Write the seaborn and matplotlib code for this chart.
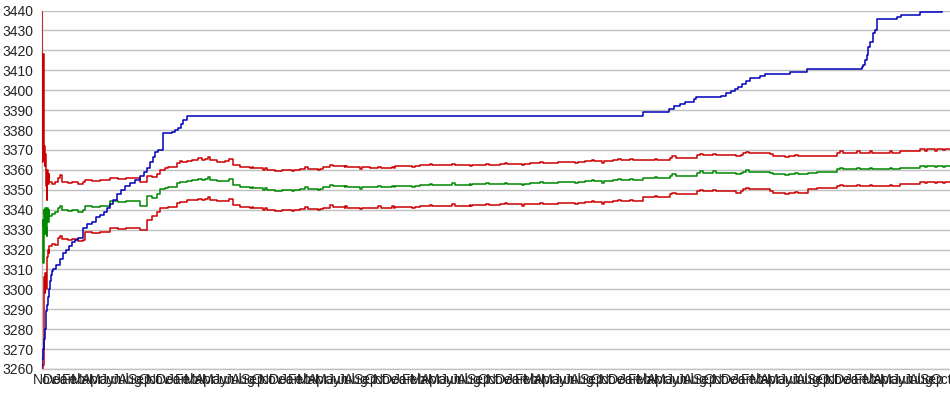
import pandas as pd
import matplotlib
matplotlib.use("Agg")
import matplotlib.pyplot as plt
import matplotlib.dates as mdates
import seaborn as sns

# Time axis: days counted from the first sample
start_date = "2005-10-20"
end_day = 2933

# Blue cumulative series (step line)
blue_days = [0, 1.6, 3.2, 7.4, 9.7, 12, 14.5, 17, 19.4, 22.6, 25.8, 28, 32, 36.5, 45, 58, 68,
             77.5, 87, 97, 106.6, 116, 132, 145, 161.5, 174, 187, 200, 210, 220, 229, 242, 255,
             268, 284, 300, 316.5, 329, 339, 349, 358.5, 365, 375, 390, 419, 430, 439, 449, 455,
             467, 1940, 2025, 2041, 2061, 2077, 2106, 2112, 2193, 2209, 2225, 2238, 2248, 2261,
             2274, 2287, 2319, 2335, 2416, 2471, 2649, 2653, 2658, 2664, 2668, 2674, 2683, 2690,
             2698, 2761, 2775, 2836, 2906, 2933]
blue_vals = [3261, 3265, 3270, 3275, 3280, 3285, 3289, 3292, 3296, 3300, 3304, 3307, 3309, 3310,
             3312, 3315, 3318, 3320, 3322, 3324, 3325, 3326, 3331, 3333, 3334, 3336.5, 3337.5,
             3339, 3341, 3343, 3345, 3348, 3350, 3352, 3353.5, 3355, 3357, 3359, 3361, 3364,
             3366.5, 3369, 3370, 3378.4, 3379, 3380, 3381, 3383, 3385, 3387.2, 3389.2, 3390.5,
             3392, 3393, 3394.2, 3395.6, 3396.4, 3397.2, 3398.4, 3399.7, 3400.5, 3401.5, 3403,
             3404.5, 3406, 3407, 3408, 3409, 3410.5, 3411.5, 3412.6, 3415, 3417.6, 3421.8, 3424.3,
             3428.5, 3430.2, 3435.6, 3436.6, 3437.7, 3439.4, 3440.3, 3440.3]

# Band series: upper (red), middle (green), lower (red)
band_days = [0, 1, 3, 5, 6.5, 8, 10, 11, 13, 15, 17, 19, 21.6, 24, 32, 42, 52, 58, 65, 84, 97,
             116, 132, 139, 161, 187, 220, 245, 271, 316, 339, 355, 371, 381, 397, 413, 436, 452,
             468, 484, 500, 526, 543, 565, 591, 617, 640, 681, 727, 752, 785, 833, 908, 930, 979,
             1060, 1140, 1221, 1302, 1382, 1479, 1576, 1673, 1754, 1802, 1844, 1941, 2028, 2116,
             2264, 2361, 2474, 2503, 2568, 2772, 2836, 2933]
upper_vals = [3445, 3364, 3418, 3370, 3365, 3372, 3362, 3368, 3352, 3345, 3360, 3353, 3358, 3354,
              3353, 3354, 3356, 3357.5, 3354, 3353.5, 3354, 3353, 3354, 3355, 3354.5, 3355, 3356,
              3355.5, 3356, 3354, 3357, 3356.6, 3358, 3360, 3360.8, 3361.5, 3363.4, 3364, 3364.3,
              3365, 3365, 3365.5, 3365, 3364, 3364.5, 3362.4, 3361.6, 3360.8, 3360, 3359.5, 3360,
              3360.5, 3361.3, 3361.8, 3361.3, 3360.8, 3361.9, 3362.2, 3362.5, 3362.5, 3363,
              3363.3, 3363.8, 3364.2, 3364.4, 3364.9, 3364.9, 3366.1, 3367.5, 3368.3, 3366.9,
              3366.9, 3367, 3368.7, 3369.5, 3370.3, 3370.3]
mid_vals = [3332, 3335, 3313, 3340, 3324, 3338, 3328, 3341, 3331, 3327, 3341, 3334, 3340, 3337,
            3338, 3339, 3341, 3342, 3340, 3339.5, 3340, 3339, 3340, 3342, 3341.5, 3342, 3344.4,
            3344, 3344.5, 3342, 3346.7, 3345.7, 3348, 3350.5, 3350.7, 3351.5, 3353.3, 3353.8,
            3354.2, 3355, 3354.9, 3355.4, 3354.9, 3354.2, 3354.6, 3352.5, 3351.6, 3350.7, 3349.9,
            3349.3, 3349.9, 3350.6, 3351.2, 3351.7, 3351.2, 3351.2, 3351.9, 3352.3, 3352.6,
            3352.8, 3353, 3353.4, 3353.8, 3354.2, 3354.4, 3354.9, 3355.8, 3357.1, 3358.6, 3359.1,
            3357.8, 3358.2, 3359.1, 3360.4, 3361.1, 3361.9, 3361.9]
lower_vals = [3250, 3258, 3262, 3281, 3300, 3306, 3298, 3308, 3300, 3304, 3316, 3320, 3318, 3322,
              3323, 3322.5, 3326, 3327, 3325.5, 3325, 3325.5, 3324.5, 3325, 3328.6, 3328.2, 3329,
              3331, 3330.5, 3331, 3330, 3335, 3337, 3339, 3340.7, 3340.7, 3341.5, 3343.1, 3343.8,
              3344.7, 3345, 3344.9, 3345.4, 3344.9, 3344.2, 3344.6, 3342.3, 3341.5, 3340.7,
              3339.9, 3339.5, 3339.9, 3340.5, 3341, 3341.5, 3341, 3341, 3341.3, 3341.7, 3342,
              3342.3, 3342.6, 3342.8, 3343.2, 3343.6, 3343.7, 3344.4, 3346.2, 3347.9, 3349.4,
              3350.2, 3348.5, 3350.3, 3351, 3352, 3352.9, 3354, 3354]

# Short jitter blips shared by the three band lines (start day, length in days, offset)
blip_days = [407, 446, 504, 536, 604, 672, 714, 775, 808, 850, 892, 930, 979, 1027, 1085, 1130,
             1195, 1253, 1324, 1382, 1434, 1495, 1550, 1609, 1667, 1722, 1777, 1809, 1861, 1899,
             1980, 2035, 2125, 2167, 2241, 2274, 2351, 2400, 2432, 2578, 2632, 2674, 2739, 2852,
             2884, 2910]
blip_widths = [6.5, 10, 13, 13, 13, 6.5, 6.5, 10, 6.5, 10, 6.5, 10, 6.5, 6.5, 10, 6.5,
               10, 6.5, 10, 6.5, 10, 6.5, 6.5, 10, 6.5, 10, 6.5, 5, 10, 10,
               6.5, 13, 10, 10, 16, 10, 10, 13, 10, 10, 10, 6.5, 6.5, 6.5,
               6.5, 6.5]
blip_offsets = [0.7, 0.8, 0.7, 0.8, 0.7, -0.6, -0.7, 0.5, -0.6, 0.7, -0.6, 0.6, 0.6, -0.7, 0.6,
                0.6, -0.5, 0.6, 0.6, -0.5, 0.6, 0.6, -0.6, 0.6, 0.6, -0.5, 0.6, -0.9, 0.6, 0.6,
                0.6, 0.7, 0.6, 0.6, -0.8, 0.6, -0.6, -0.6, 0.6, 0.6, 0.6, 0.6, 0.6, -0.6,
                -0.6, -0.5]

y_ticks = list(range(3260, 3441, 10))

t0 = pd.Timestamp(start_date)


def held_value(days, vals, day):
    # value of a step series at a given day
    out = vals[0]
    for d, v in zip(days, vals):
        if d <= day:
            out = v
    return out


def with_blips(vals):
    pts = list(zip(band_days, vals))
    for d, w, off in zip(blip_days, blip_widths, blip_offsets):
        pts.append((d, held_value(band_days, vals, d) + off))
        pts.append((d + w, held_value(band_days, vals, d + w)))
    pts.sort(key=lambda p: p[0])
    return [p[0] for p in pts], [p[1] for p in pts]


def to_frame(days, vals, name):
    return pd.DataFrame({
        "date": t0 + pd.to_timedelta(days, unit="D"),
        "value": vals,
        "series": name,
    })


frames = [to_frame(*with_blips(v), name) for v, name in
          [(upper_vals, "upper"), (lower_vals, "lower"), (mid_vals, "mid")]]
frames.append(to_frame(blue_days, blue_vals, "total"))
data = pd.concat(frames, ignore_index=True)

palette = {"upper": "#cc0000", "lower": "#cc0000", "mid": "#008800", "total": "#0000bb"}

sns.set_style("white")
plt.rcParams["font.family"] = ["Liberation Sans", "DejaVu Sans"]

fig = plt.figure(figsize=(9.5, 3.95), dpi=100)
ax = fig.add_axes([42 / 950, 26 / 395, 1 - 42 / 950, (369 - 10.5) / 395])

sns.lineplot(data=data, x="date", y="value", hue="series", palette=palette,
             estimator=None, sort=False, drawstyle="steps-post", linewidth=1.1,
             legend=False, zorder=3, ax=ax)

ax.set_xlim(t0, t0 + pd.Timedelta(days=end_day))
ax.set_ylim(3260, 3440)
ax.set_yticks(y_ticks)
ax.yaxis.grid(True, color="#c0c0c0", linewidth=1.0)
ax.xaxis.grid(False)
ax.set_axisbelow(True)

ax.xaxis.set_major_locator(mdates.MonthLocator())
ax.xaxis.set_major_formatter(mdates.DateFormatter("%b"))

ax.tick_params(axis="both", length=0, labelsize=10, colors="#222222")
ax.tick_params(axis="y", pad=6)
ax.tick_params(axis="x", pad=3)
ax.set_xlabel("")
ax.set_ylabel("")

for side in ["top", "right"]:
    ax.spines[side].set_visible(False)
for side in ["left", "bottom"]:
    ax.spines[side].set_color("#c0c0c0")
    ax.spines[side].set_linewidth(1.0)

fig.savefig("out.png", dpi=100)
